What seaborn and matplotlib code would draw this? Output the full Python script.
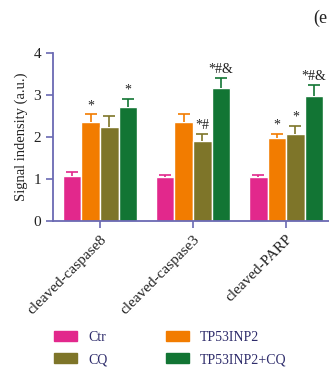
import pandas as pd
import matplotlib
matplotlib.use('Agg')
import matplotlib.pyplot as plt
import seaborn as sns
import numpy as np

# data
categories = ['cleaved-caspase8', 'cleaved-caspase3', 'cleaved-PARP']
groups = ['Ctr', 'TP53INP2', 'CQ', 'TP53INP2+CQ']
ctr = [1.07, 1.05, 1.05]
tp53inp2 = [2.36, 2.36, 1.98]
cq = [2.24, 1.90, 2.07]
tp_cq = [2.71, 3.18, 2.97]
ctr_err = [0.10, 0.04, 0.04]
tp53inp2_err = [0.18, 0.18, 0.10]
cq_err = [0.27, 0.18, 0.20]
tp_cq_err = [0.20, 0.22, 0.28]
# significance marks (category, group, text)
marks = [(0, 1, '*'), (0, 3, '*'),
         (1, 2, '*#'), (1, 3, '*#&'),
         (2, 1, '*'), (2, 2, '*'), (2, 3, '*#&')]

colors = ['#E2288C', '#F27C00', '#7E7529', '#127534']
axis_col = '#6A69B3'
text_col = '#2E2C6B'

sns.set_style('white')
plt.rcParams['font.family'] = ['Liberation Serif', 'DejaVu Serif']

means = [ctr, tp53inp2, cq, tp_cq]
errs = [ctr_err, tp53inp2_err, cq_err, tp_cq_err]
rows = []
for g, vals, ers in zip(groups, means, errs):
    for c, v, e in zip(categories, vals, ers):
        rows.append({'cat': c, 'group': g, 'value': v, 'err': e})
df = pd.DataFrame(rows)

fig = plt.figure(figsize=(3.29, 3.72), dpi=100)
ax = fig.add_axes([0.161, 0.406, 0.839, 0.451])

sns.barplot(data=df, x='cat', y='value', hue='group', hue_order=groups,
            order=categories, palette=colors, errorbar=None, width=0.8,
            saturation=1, ax=ax, legend=True)

# error bars (upper only) on top of each bar
centers = {}
for gi, g in enumerate(groups):
    cont = ax.containers[gi]
    for ci, bar in enumerate(cont):
        x = bar.get_x() + bar.get_width() / 2
        y = bar.get_height()
        e = errs[gi][ci]
        centers[(ci, gi)] = (x, y + e)
        eb = ax.errorbar(x, y, yerr=[[0], [e]], fmt='none', ecolor=colors[gi],
                         elinewidth=1.2, capsize=4, capthick=1.2)
        eb[1][0].set_visible(False)  # hide the cap at bar top

for ci, gi, s in marks:
    x, top = centers[(ci, gi)]
    ax.text(x, top + 0.05, s, ha='center', va='bottom', fontsize=10,
            color='#222222')

ax.set_ylim(0, 4)
ax.set_xlim(-0.505, 2.46)
ax.set_yticks([0, 1, 2, 3, 4])
ax.set_xlabel('')
ax.set_ylabel('Signal indensity (a.u.)', fontsize=10.5, color='#222222')
ax.set_xticklabels(categories, rotation=45, ha='right', rotation_mode='anchor',
                   fontsize=11, color='#222222')
ax.tick_params(axis='y', labelsize=11, colors='#222222', length=5,
               width=1.2, direction='out', left=True, color=axis_col)
ax.tick_params(axis='x', length=5, width=1.2, direction='out', bottom=True,
               color=axis_col)
sns.despine(ax=ax)
for s in ['left', 'bottom']:
    ax.spines[s].set_color(axis_col)
    ax.spines[s].set_linewidth(1.3)

ax.legend_.remove()
# column-wise fill: Ctr / CQ in first column, TP53INP2 / TP53INP2+CQ second
order = [0, 2, 1, 3]
handles = [plt.Rectangle((0, 0), 1, 1, color=colors[i]) for i in order]
labels = [groups[i] for i in order]
leg = fig.legend(handles, labels, ncol=2, loc='center left',
                 bbox_to_anchor=(0.164, 0.063), frameon=False, fontsize=10,
                 handlelength=1.65, handleheight=0.7, columnspacing=4.2,
                 labelspacing=0.65, handletextpad=0.8, borderpad=0,
                 borderaxespad=0)
for t in leg.get_texts():
    t.set_color(text_col)

fig.text(0.951, 0.952, '(e', fontsize=13, ha='left', va='center',
         color='#222222')

fig.savefig('out.png', dpi=100)
